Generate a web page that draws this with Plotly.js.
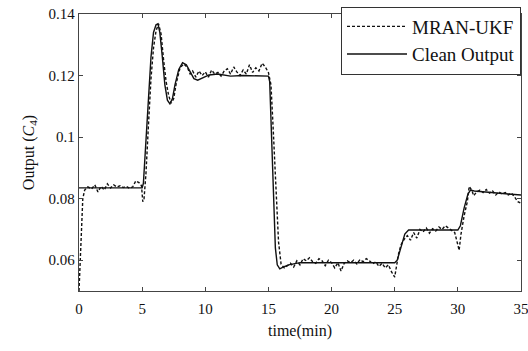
<!DOCTYPE html>
<html><head><meta charset="utf-8">
<script src="https://cdn.plot.ly/plotly-3.0.1.min.js"></script>
<style>html,body{margin:0;padding:0;background:#fff}#c{width:528px;height:351px}</style>
</head><body><div id="c"></div>
<script>
const cleanT = [0,5.0,5.1,5.3,5.5,5.7,5.9,6.1,6.25,6.4,6.6,6.8,7.0,7.2,7.4,7.6,7.9,8.2,8.5,8.8,9.1,9.4,9.8,10.3,11,12,13,14,15.0,15.1,15.25,15.4,15.55,15.7,15.9,16.2,16.6,17.5,20,25.0,25.2,25.5,25.8,26.1,27,30.0,30.2,30.5,30.8,31.0,31.3,32,33,34,35];
const cleanY = [0.0835,0.0835,0.0850,0.098,0.114,0.126,0.134,0.1365,0.1368,0.134,0.126,0.117,0.112,0.1108,0.1125,0.117,0.122,0.1242,0.1235,0.121,0.119,0.1185,0.1192,0.1202,0.1205,0.1198,0.1200,0.1198,0.1198,0.118,0.100,0.080,0.064,0.0585,0.0572,0.0578,0.0585,0.0592,0.0592,0.0592,0.0600,0.0645,0.0685,0.0698,0.0698,0.0698,0.0712,0.0770,0.0815,0.0828,0.0825,0.0822,0.0818,0.0815,0.0812];

const mranT = [0,0.1,0.2,0.3,0.45,0.7,1.0,1.25,1.5,1.75,2.0,2.25,2.5,2.75,3.0,3.25,3.5,3.75,4.0,4.25,4.5,4.75,4.95,5.05,5.15,5.3,5.5,5.7,5.9,6.1,6.3,6.5,6.7,6.9,7.1,7.3,7.5,7.7,8.0,8.3,8.6,8.8,9.0,9.25,9.5,9.75,10.0,10.25,10.5,10.75,11.0,11.25,11.5,11.75,12.0,12.25,12.5,12.75,13.0,13.25,13.5,13.75,14.0,14.25,14.5,14.75,15.0,15.2,15.35,15.5,15.65,15.8,16.0,16.25,16.5,16.75,17.0,17.25,17.5,17.75,18.0,18.25,18.5,18.75,19.0,19.25,19.5,19.75,20.0,20.25,20.5,20.75,21.0,21.25,21.5,21.75,22.0,22.25,22.5,22.75,23.0,23.25,23.5,23.75,24.0,24.25,24.5,24.75,25.0,25.15,25.3,25.5,25.75,26.0,26.25,26.5,26.75,27.0,27.25,27.5,27.75,28.0,28.25,28.5,28.75,29.0,29.25,29.5,29.75,30.0,30.1,30.25,30.5,30.75,30.9,31.1,31.25,31.5,31.75,32.0,32.25,32.5,32.75,33.0,33.25,33.5,33.75,34.0,34.25,34.5,34.75,35.0];
const mranY = [0.050,0.062,0.074,0.080,0.0828,0.0838,0.0832,0.0845,0.0822,0.0840,0.0828,0.0848,0.0835,0.0845,0.0838,0.0842,0.0836,0.0840,0.0834,0.0838,0.0858,0.0852,0.0842,0.0790,0.0800,0.088,0.104,0.119,0.129,0.1345,0.1368,0.1335,0.125,0.118,0.1135,0.111,0.1125,0.1175,0.1225,0.1238,0.1225,0.1205,0.1215,0.1195,0.1215,0.1200,0.1212,0.1195,0.1218,0.1205,0.1210,0.1198,0.1215,0.1222,0.1205,0.1228,0.1212,0.1200,0.1218,0.1205,0.1235,0.1210,0.1225,0.1215,0.1240,0.1228,0.1210,0.117,0.105,0.090,0.076,0.066,0.0588,0.0575,0.0582,0.0590,0.0578,0.0598,0.0585,0.0605,0.0598,0.0608,0.0595,0.0590,0.0605,0.0598,0.0582,0.0600,0.0592,0.0575,0.0592,0.0565,0.0590,0.0598,0.0592,0.0600,0.0588,0.0602,0.0595,0.0605,0.0598,0.0588,0.0595,0.0580,0.0590,0.0575,0.0585,0.0562,0.0545,0.0580,0.0620,0.0650,0.0668,0.0680,0.0665,0.0690,0.0672,0.0700,0.0692,0.0705,0.0688,0.0702,0.0695,0.0708,0.0700,0.0712,0.0705,0.0698,0.0690,0.0650,0.0632,0.0685,0.0745,0.0790,0.0840,0.0828,0.0810,0.0822,0.0828,0.0820,0.0830,0.0818,0.0825,0.0812,0.0822,0.0815,0.0820,0.0812,0.0818,0.0805,0.0790,0.0785];

const xTicks = [0,5,10,15,20,25,30,35];
const yTicks = [0.06,0.08,0.1,0.12,0.14];
const names = ['MRAN-UKF','Clean Output'];

const font = 'Liberation Serif, Times New Roman, serif';
const traces = [
  {x: mranT, y: mranY, name: names[0], mode: 'lines', line: {color: '#111', width: 1.4, dash: '3px,2px'}},
  {x: cleanT, y: cleanY, name: names[1], mode: 'lines', line: {color: '#111', width: 1.4}}
];
const axBase = {showgrid: false, zeroline: false, showline: true, linecolor: '#444', linewidth: 1.2, mirror: 'ticks', ticks: 'inside', ticklen: 4, tickcolor: '#444', tickfont: {family: font, size: 15, color: '#111'}};
const layout = {
  width: 528, height: 351,
  margin: {l: 79, r: 7, t: 14, b: 60},
  paper_bgcolor: '#fff', plot_bgcolor: '#fff',
  font: {family: font, color: '#111'},
  showlegend: true,
  legend: {x: 1, xanchor: 'right', y: 1.027, yanchor: 'top', bgcolor: '#fff', bordercolor: '#333', borderwidth: 1, itemwidth: 60, font: {family: font, size: 19, color: '#111'}, tracegroupgap: 0},
  xaxis: Object.assign({}, axBase, {range: [0, 35.001], tickvals: xTicks, ticklabeloverflow: 'allow', ticklabelstandoff: 4, title: {text: 'time(min)', font: {family: font, size: 16}, standoff: 8}}),
  yaxis: Object.assign({}, axBase, {range: [0.05, 0.14], tickvals: yTicks, title: {text: 'Output (<i>C</i><sub>4</sub>)', font: {family: font, size: 16}, standoff: 10}})
};
Plotly.newPlot('c', traces, layout, {displayModeBar: false, staticPlot: true});
</script></body></html>
